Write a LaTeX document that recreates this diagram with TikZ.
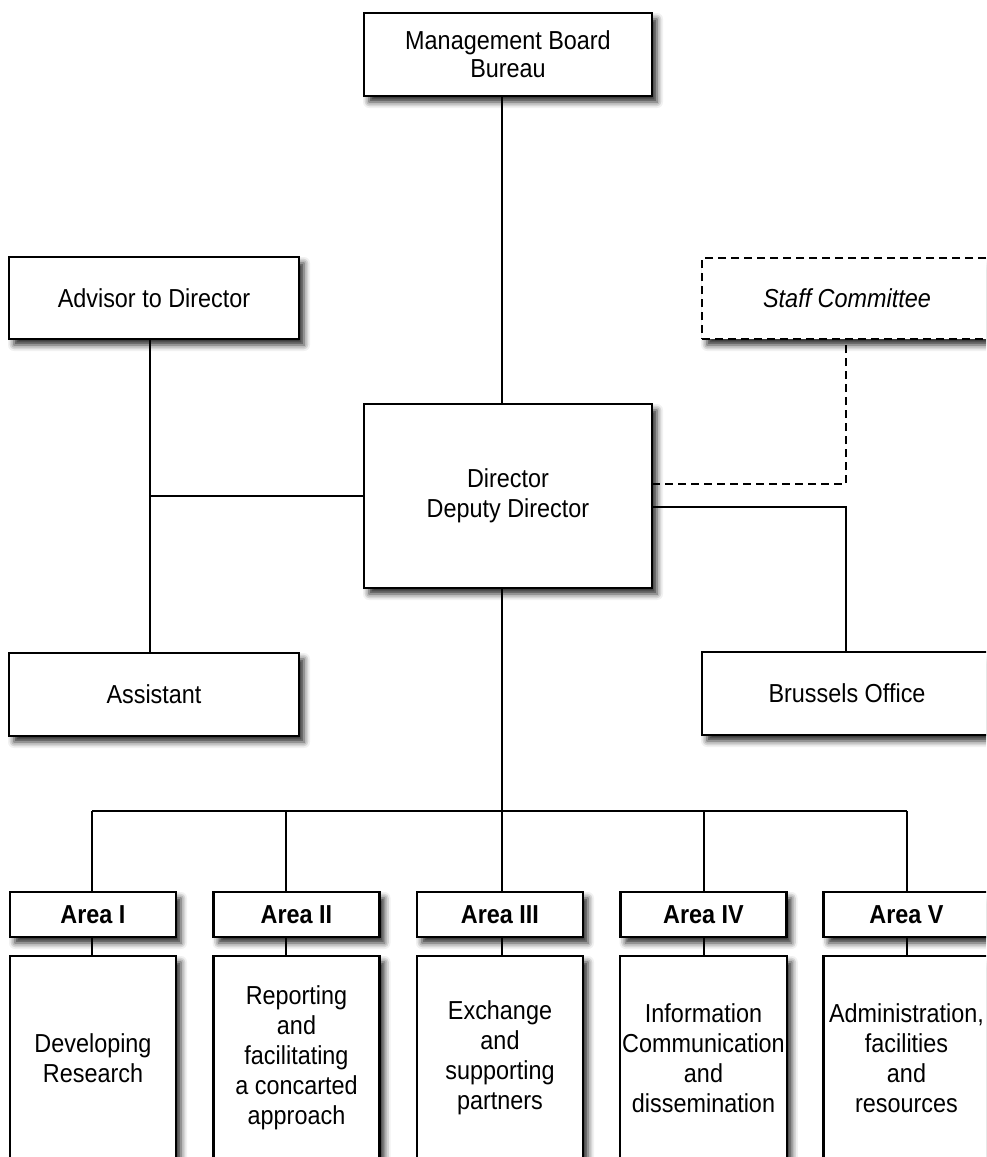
\documentclass[tikz,border=0pt]{standalone}
\usepackage{fontspec}
\setmainfont[FakeStretch=0.9]{Liberation Sans}
\usetikzlibrary{shadows.blur}
\begin{document}
\begin{tikzpicture}[x=1pt,y=-1pt,
  shad/.style={blur shadow={shadow xshift=5pt,shadow yshift=-6pt,shadow blur radius=6pt,shadow opacity=85}},
  box/.style={draw=black,fill=white,line width=2.5pt,rectangle,align=center,inner sep=2pt,
    font=\fontsize{26}{28}\selectfont,shad},
  dbox/.style={box,dash pattern=on 8pt off 5pt},
  hdr/.style={box,minimum width=166pt,minimum height=45pt,font=\bfseries\fontsize{26}{28}\selectfont},
  body/.style={box,minimum width=166pt,minimum height=204pt,font=\fontsize{26}{30}\selectfont},
  conn/.style={draw=black,line width=2.2pt},
  dconn/.style={conn,dash pattern=on 8pt off 5pt}]
\useasboundingbox (0,0) rectangle (986,1157);
\clip (0,0) rectangle (986,1157);
% coordinates for connector lines
\coordinate (cx) at (502,811);
\coordinate (lx) at (150,496);
\coordinate (dy) at (846,484);
\coordinate (sy) at (846,507);
\coordinate (de) at (652,484);
\coordinate (b1) at (92,811);
\coordinate (b2) at (286,811);
\coordinate (b3) at (502,811);
\coordinate (b4) at (704,811);
\coordinate (b5) at (907,811);
% connectors first (under boxes)
\draw[conn] (502,54) coordinate (mbc) -- (502,496) coordinate (dc);
\draw[conn] (lx) -- (dc);
\draw[conn] (150,298) coordinate (advc) -- (150,694) coordinate (asc);
\draw[dconn] (de) -- (dy) -- (846,298) coordinate (stc);
\draw[conn] (dc |- sy) -- (sy) -- (846,694) coordinate (brc);
\draw[conn] (dc) -- (cx);
\draw[conn] (b1) -- (b5);
\foreach \b in {b1,b2,b3,b4,b5} \draw[conn] (\b) -- (\b |- 0,1000);
% boxes
\node[box,minimum width=288pt,minimum height=83pt] (mb) at (508,54.5) {Management Board\\Bureau};
\node[box,minimum width=290pt,minimum height=82pt] (adv) at (154,298) {Advisor to Director};
\node[dbox,minimum width=290pt,minimum height=81pt] (staff) at (847,298.5) {\itshape Staff Committee};
\node[box,minimum width=288pt,minimum height=184pt,font=\fontsize{26}{30}\selectfont] (dir) at (508,496) {Director\\Deputy Director};
\node[box,minimum width=290pt,minimum height=83pt] (asst) at (154,694.5) {Assistant};
\node[box,minimum width=290pt,minimum height=83pt] (bru) at (847,693.5) {Brussels Office};
% area headers
\node[hdr] (h1) at (93,914.5) {Area I};
\node[hdr] (h2) at (296.5,914.5) {Area II};
\node[hdr] (h3) at (500,914.5) {Area III};
\node[hdr] (h4) at (703.5,914.5) {Area IV};
\node[hdr] (h5) at (906.5,914.5) {Area V};
% small connectors between header and body
\draw[conn] (h1.south -| b1) -- ++(0,20);
\draw[conn] (h2.south -| b2) -- ++(0,20);
\draw[conn] (h3.south -| b3) -- ++(0,20);
\draw[conn] (h4.south -| b4) -- ++(0,20);
\draw[conn] (h5.south -| b5) -- ++(0,20);
% area bodies
\node[body] (a1) at (93,1058) {Developing\\Research};
\node[body] (a2) at (296.5,1058) {Reporting\\and\\facilitating\\a concarted\\approach};
\node[body] (a3) at (500,1058) {Exchange\\and\\supporting\\partners};
\node[body] (a4) at (703.5,1058) {Information\\Communication\\and\\dissemination};
\node[body] (a5) at (906.5,1058) {Administration,\\facilities\\and\\resources};
\end{tikzpicture}
\end{document}
